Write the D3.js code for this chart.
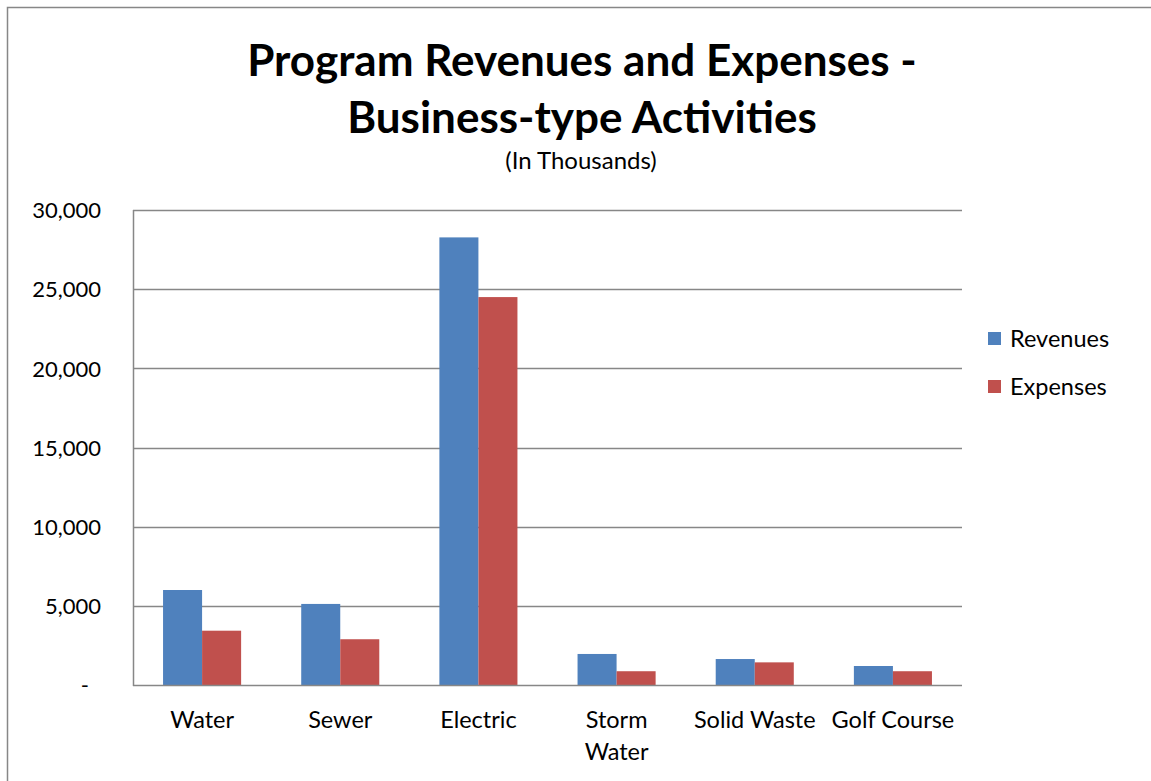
<!DOCTYPE html>
<html>
<head>
<meta charset="utf-8">
<script src="https://cdn.jsdelivr.net/npm/d3@7"></script>
<style>
  html, body { margin: 0; padding: 0; background: #fff; }
  svg { display: block; }
  text { font-family: Lato, "Open Sans", "Noto Sans", sans-serif; fill: #000; }
</style>
</head>
<body>
<svg id="chart" width="1151" height="781"></svg>
<script>
const categories = ["Water", "Sewer", "Electric", "Storm Water", "Solid Waste", "Golf Course"];
const seriesNames = ["Revenues", "Expenses"];
const revenues = [6000, 5120, 28270, 1960, 1640, 1200];
const expenses = [3430, 2890, 24500, 870, 1430, 870];
const yTicks = [0, 5000, 10000, 15000, 20000, 25000, 30000];
const colors = ["#4F81BD", "#C0504D"];

const svg = d3.select("#chart");

// outer frame
svg.append("rect").attr("x", 7.5).attr("y", 7.5).attr("width", 1300).attr("height", 1000)
  .attr("fill", "#fff").attr("stroke", "#878787").attr("stroke-width", 1.5);

const plot = { left: 133, right: 962, top: 210, bottom: 685 };

const x0 = d3.scaleBand().domain(categories).range([plot.left, plot.right]).paddingInner(0).paddingOuter(0);
const x1 = d3.scaleBand().domain(seriesNames)
  .range([x0.bandwidth() * 0.2175, x0.bandwidth() * (1 - 0.2175)]);
const y = d3.scaleLinear().domain([0, 30000]).range([plot.bottom, plot.top]);

// gridlines
svg.append("g").selectAll("line").data(yTicks.filter(d => d > 0)).join("line")
  .attr("x1", plot.left).attr("x2", plot.right)
  .attr("y1", d => Math.round(y(d)) + 0.5).attr("y2", d => Math.round(y(d)) + 0.5)
  .attr("stroke", "#878787").attr("stroke-width", 1.5);

// bars
const data = categories.map((c, i) => ({ cat: c, vals: [revenues[i], expenses[i]] }));
const groups = svg.append("g").selectAll("g").data(data).join("g")
  .attr("transform", d => `translate(${x0(d.cat)},0)`);
groups.selectAll("rect").data(d => d.vals.map((v, j) => ({ s: seriesNames[j], v, j }))).join("rect")
  .attr("x", d => x1(d.s)).attr("width", x1.bandwidth())
  .attr("y", d => y(d.v)).attr("height", d => y(0) - y(d.v))
  .attr("fill", d => colors[d.j]);

// y axis
const fmt = d3.format(",");
const yAxis = d3.axisLeft(y).tickValues(yTicks).tickSize(0).tickPadding(32)
  .tickFormat(d => d === 0 ? "-" : fmt(d));
const gy = svg.append("g").attr("transform", `translate(${plot.left},0)`).call(yAxis);
gy.select(".domain").remove();
gy.selectAll("text").style("font-size", "22px").attr("dy", "0.35em");
gy.selectAll(".tick").filter(d => d === 0).select("text").attr("dx", "-12");

// axis lines
svg.append("line").attr("x1", plot.left + 0.5).attr("x2", plot.left + 0.5)
  .attr("y1", plot.top).attr("y2", plot.bottom + 1)
  .attr("stroke", "#878787").attr("stroke-width", 1.5);
svg.append("line").attr("x1", plot.left).attr("x2", plot.right)
  .attr("y1", plot.bottom + 0.5).attr("y2", plot.bottom + 0.5)
  .attr("stroke", "#878787").attr("stroke-width", 1.5);

// x axis labels
const xAxis = d3.axisBottom(x0).tickSize(0).tickPadding(0);
const gx = svg.append("g").attr("transform", `translate(0,${plot.bottom})`).call(xAxis);
gx.select(".domain").remove();
gx.selectAll(".tick text").each(function(d) {
  const t = d3.select(this);
  t.text(null).attr("y", 0).attr("dy", null).style("font-size", "23.5px");
  const words = d === "Storm Water" ? ["Storm", "Water"] : [d];
  words.forEach((w, i) => t.append("tspan").attr("x", 0).attr("y", 43 + i * 32).text(w));
});

// title
svg.append("text").attr("x", 582).attr("y", 76).attr("text-anchor", "middle")
  .style("font-size", "44px").style("font-weight", "bold").text("Program Revenues and Expenses -");
svg.append("text").attr("x", 582).attr("y", 133).attr("text-anchor", "middle")
  .style("font-size", "44px").style("font-weight", "bold").text("Business-type Activities");
svg.append("text").attr("x", 581).attr("y", 169).attr("text-anchor", "middle")
  .style("font-size", "24px").text("(In Thousands)");

// legend
const leg = svg.append("g").selectAll("g").data(seriesNames).join("g")
  .attr("transform", (d, i) => `translate(988,${332 + i * 48})`);
leg.append("rect").attr("width", 13).attr("height", 13).attr("fill", (d, i) => colors[i]);
leg.append("text").attr("x", 22).attr("y", 6.5).attr("dy", "0.35em")
  .style("font-size", "23.5px").text(d => d);
</script>
</body>
</html>
